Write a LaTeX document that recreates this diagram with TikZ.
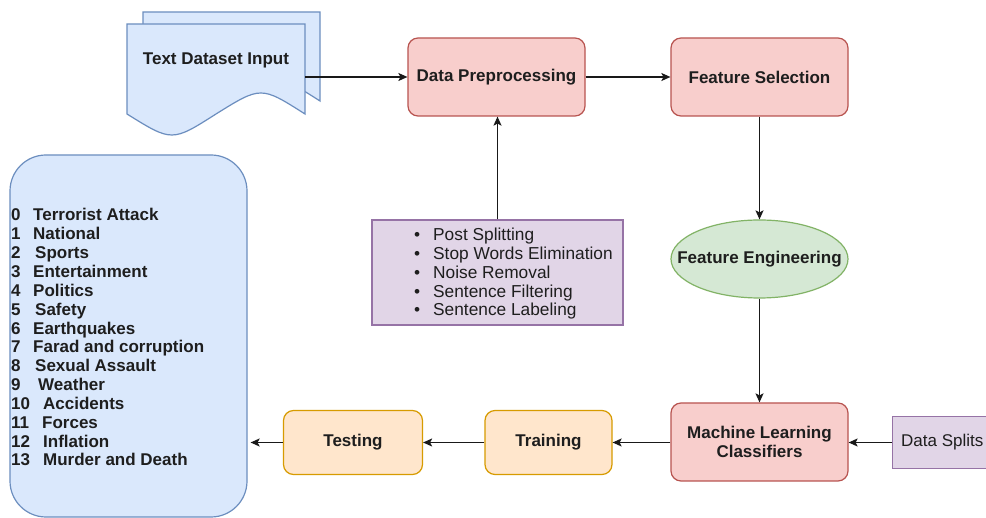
\documentclass[tikz,border=0pt]{standalone}
\usepackage{fontspec}
\setmainfont{Liberation Sans}
\usetikzlibrary{arrows.meta,shapes.geometric}
\definecolor{bluefill}{HTML}{DAE8FC}
\definecolor{blueline}{HTML}{6C8EBF}
\definecolor{redfill}{HTML}{F8CECC}
\definecolor{redline}{HTML}{B85450}
\definecolor{greenfill}{HTML}{D5E8D4}
\definecolor{greenline}{HTML}{82B366}
\definecolor{purplefill}{HTML}{E1D5E7}
\definecolor{purpleline}{HTML}{9673A6}
\definecolor{orangefill}{HTML}{FFE6CC}
\definecolor{orangeline}{HTML}{D79B00}
\definecolor{txt}{HTML}{1E1E1E}
\newcommand\figfont{\fontsize{17}{19}\selectfont}
\tikzset{
  base/.style={line width=1.2pt, inner sep=0pt, text=txt},
  redbox/.style={base, draw=redline, fill=redfill, rounded corners=10pt, minimum width=177pt, minimum height=78pt, font=\figfont\bfseries},
  orangebox/.style={base, draw=orangeline, fill=orangefill, rounded corners=10pt, minimum height=64pt, font=\figfont\bfseries},
  purplebox/.style={base, draw=purpleline, fill=purplefill},
  greenell/.style={base, ellipse, draw=greenline, fill=greenfill, minimum width=177pt, minimum height=78pt, font=\figfont\bfseries},
  listbox/.style={base, draw=blueline, fill=bluefill, rounded corners=36pt, minimum width=237pt, minimum height=362pt},
  sheet/.style={line width=1.2pt, draw=blueline, fill=bluefill},
  arr/.style={line width=1.2pt, draw=black!90, -{Stealth[length=9pt,width=8pt,inset=2pt]}},
  plaintext/.style={inner sep=0pt, text=txt, align=left}
}
\begin{document}
\begin{tikzpicture}[x=1pt,y=-1pt,font=\figfont]
\useasboundingbox (0,0) rectangle (986,518);
\fill[white] (0,0) rectangle (986,518);

% multi-document input
\path[sheet] (143,12) -- (320,12) -- (320,101)
  .. controls (276,73) .. (231.5,101)
  .. controls (187,129) .. (143,101) -- cycle;
\path[sheet] (127,24) -- (305,24) -- (305,114)
  .. controls (261,86) .. (216,114)
  .. controls (172,142) .. (127,114) -- cycle;
\node[base, font=\figfont\bfseries] (docin) at (216,60) {Text Dataset Input};
\coordinate (docR) at (305,77);

% main boxes
\node[redbox] (pre) at (496.5,77) {Data Preprocessing};
\node[redbox] (fs) at (759.5,77) {Feature Selection};
\node[greenell] (fe) at (759.5,259) {\makebox[0pt][c]{Feature Engineering}};
\node[redbox, align=center] (ml) at (759.5,442) {Machine Learning\\Classifiers};
\node[purplebox, minimum width=102pt, minimum height=52pt, anchor=west] (split) at (892,442.5) {};
\node[plaintext, anchor=west] (splittext) at (901,442.5) {Data Splits};
\node[orangebox, minimum width=127pt] (train) at (548.5,442.5) {Training};
\node[orangebox, minimum width=139pt] (test) at (353,442.5) {Testing};

% preprocessing steps
\node[purplebox, minimum width=251pt, minimum height=105pt] (steps) at (497.5,272.5) {};
\node[plaintext, anchor=west, font=\fontsize{17.3}{18.75}\selectfont] (stepstext) at (414,274) {%
\makebox[19pt][l]{\textbullet}Post Splitting\\
\makebox[19pt][l]{\textbullet}Stop Words Elimination\\
\makebox[19pt][l]{\textbullet}Noise Removal\\
\makebox[19pt][l]{\textbullet}Sentence Filtering\\
\makebox[19pt][l]{\textbullet}Sentence Labeling};

% categories
\node[listbox] (list) at (128.5,336) {};
\node[plaintext, anchor=west, font=\fontsize{17}{18.85}\selectfont\bfseries] (cats) at (11,337.4) {%
\makebox[22pt][l]{0}Terrorist Attack\\
\makebox[22pt][l]{1}National\\
\makebox[24pt][l]{2}Sports\\
\makebox[22pt][l]{3}Entertainment\\
\makebox[22pt][l]{4}Politics\\
\makebox[24pt][l]{5}Safety\\
\makebox[22pt][l]{6}Earthquakes\\
\makebox[22pt][l]{7}Farad and corruption\\
\makebox[24pt][l]{8}Sexual Assault\\
\makebox[27pt][l]{9}Weather\\
\makebox[32pt][l]{10}Accidents\\
\makebox[31pt][l]{11}Forces\\
\makebox[32pt][l]{12}Inflation\\
\makebox[32pt][l]{13}Murder and Death};

% connectors
\draw[arr] (docR) -- (pre.west |- docR);
\draw[arr] (pre.east) -- (fs.west);
\draw[arr] (fs.south) -- (fe.north);
\draw[arr] (fe.south) -- (ml.north);
\draw[arr] (steps.north) -- (steps.north |- pre.south);
\draw[arr] (split.west) -- (split.west -| ml.east);
\draw[arr] (ml.west |- train.east) -- (train.east);
\draw[arr] (train.west) -- (test.east);
\draw[arr, shorten >=3pt] (test.west) -- (test.west -| list.east);
\end{tikzpicture}
\end{document}
